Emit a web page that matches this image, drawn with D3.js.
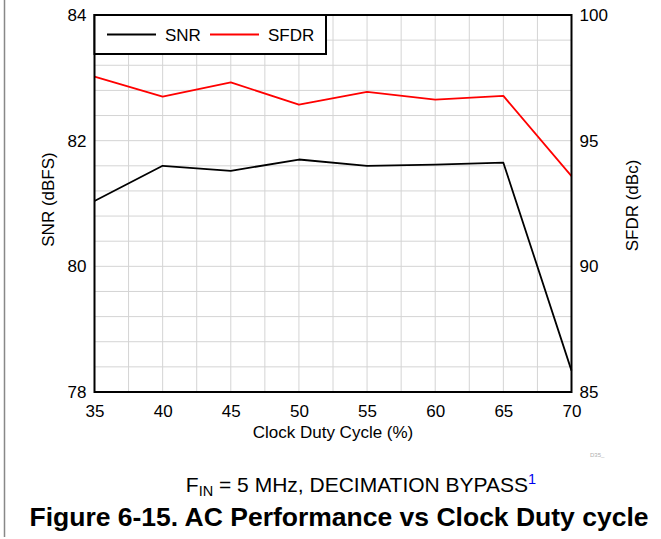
<!DOCTYPE html>
<head>
<meta charset="utf-8">
<style>
body { margin: 0; background: #fff; }
text { font-family: "Liberation Sans", Arial, sans-serif; fill: #000; }
.grid line { stroke: #d4d4d4; stroke-width: 1; }
.line { fill: none; stroke-width: 1.8px; stroke-linejoin: round; }
</style>
<script src="https://cdn.jsdelivr.net/npm/d3@7"></script>
</head>
<body>
<svg class="chart" width="661" height="539"></svg>
<script>
// Duty cycle values (%), and the two measured series.
var duty = [35, 40, 45, 50, 55, 60, 65, 70];
var snr = [81.04, 81.60, 81.52, 81.70, 81.60, 81.62, 81.65, 78.34];
var sfdr = [97.55, 96.75, 97.32, 96.43, 96.94, 96.63, 96.78, 93.59];
var snrTicks = [78, 80, 82, 84];
var sfdrTicks = [85, 90, 95, 100];
var dutyTicks = [35, 40, 45, 50, 55, 60, 65, 70];

var svg = d3.select(".chart"),
  margin = {top: 15, right: 89.5, bottom: 147, left: 94.5},
  width = 661 - margin.left - margin.right,
  height = 539 - margin.top - margin.bottom,
  fontSize = "17px";

// Scales for x and both y axes.
var x = d3.scaleLinear().domain([35, 70]).range([margin.left, margin.left + width]);
var ySnr = d3.scaleLinear().domain([78, 84]).range([margin.top + height, margin.top]);
var ySfdr = d3.scaleLinear().domain([85, 100]).range([margin.top + height, margin.top]);

// Page border on the left.
svg.append("line")
  .attr("x1", 4.5).attr("x2", 4.5).attr("y1", 0).attr("y2", 537)
  .attr("stroke", "#888").attr("stroke-width", 1.5);

// Grid lines: every 2.5 % and every 0.4 dB.
var grid = svg.append("g").attr("class", "grid");
grid.selectAll(".gx").data(d3.range(0, 15).map(function(i) { return 35 + i * 2.5; }))
  .enter().append("line")
  .attr("x1", function(d) { return x(d); }).attr("x2", function(d) { return x(d); })
  .attr("y1", margin.top).attr("y2", margin.top + height);
grid.selectAll(".gy").data(d3.range(0, 16).map(function(i) { return 78 + i * 0.4; }))
  .enter().append("line")
  .attr("x1", margin.left).attr("x2", margin.left + width)
  .attr("y1", function(d) { return ySnr(d); }).attr("y2", function(d) { return ySnr(d); });

// The two data lines.
var snrLine = d3.line()
  .x(function(d, i) { return x(duty[i]); })
  .y(function(d) { return ySnr(d); });
var sfdrLine = d3.line()
  .x(function(d, i) { return x(duty[i]); })
  .y(function(d) { return ySfdr(d); });

svg.append("path").datum(sfdr).attr("class", "line").attr("stroke", "#ff0000").attr("d", sfdrLine);
svg.append("path").datum(snr).attr("class", "line").attr("stroke", "#000").attr("d", snrLine);

// Plot frame.
svg.append("rect")
  .attr("x", margin.left).attr("y", margin.top)
  .attr("width", width).attr("height", height)
  .attr("fill", "none").attr("stroke", "#000").attr("stroke-width", 2);

// Axes: only labels, no tick marks.
var fmt = d3.format("d");
var xAxis = d3.axisBottom(x).tickValues(dutyTicks).tickFormat(fmt).tickSize(0).tickPadding(13);
svg.append("g").attr("transform", "translate(0," + (margin.top + height) + ")")
  .call(xAxis).call(function(g) { g.select(".domain").remove(); })
  .selectAll("text").attr("font-size", fontSize).attr("font-family", null);

var yLeft = d3.axisLeft(ySnr).tickValues(snrTicks).tickFormat(fmt).tickSize(0).tickPadding(8);
svg.append("g").attr("transform", "translate(" + margin.left + ",0)")
  .call(yLeft).call(function(g) { g.select(".domain").remove(); })
  .selectAll("text").attr("font-size", fontSize).attr("font-family", null);

var yRight = d3.axisRight(ySfdr).tickValues(sfdrTicks).tickFormat(fmt).tickSize(0).tickPadding(8);
svg.append("g").attr("transform", "translate(" + (margin.left + width) + ",0)")
  .call(yRight).call(function(g) { g.select(".domain").remove(); })
  .selectAll("text").attr("font-size", fontSize).attr("font-family", null);

// Axis titles.
svg.append("text")
  .attr("x", x(52.5)).attr("y", 438)
  .attr("text-anchor", "middle").attr("font-size", fontSize)
  .text("Clock Duty Cycle (%)");
svg.append("text")
  .attr("transform", "translate(54," + ((margin.top + margin.top + height) / 2 - 4) + ") rotate(-90)")
  .attr("text-anchor", "middle").attr("font-size", fontSize)
  .text("SNR (dBFS)");
svg.append("text")
  .attr("transform", "translate(638," + ((margin.top + margin.top + height) / 2 + 2) + ") rotate(-90)")
  .attr("text-anchor", "middle").attr("font-size", fontSize)
  .text("SFDR (dBc)");

// Legend box.
var legend = svg.append("g");
legend.append("rect")
  .attr("x", margin.left).attr("y", margin.top)
  .attr("width", 231.5).attr("height", 39)
  .attr("fill", "#fff").attr("stroke", "#000").attr("stroke-width", 2);
legend.append("line").attr("x1", 107).attr("x2", 156).attr("y1", 34.5).attr("y2", 34.5)
  .attr("stroke", "#000").attr("stroke-width", 1.8);
legend.append("text").attr("x", 165).attr("y", 41).attr("font-size", fontSize).text("SNR");
legend.append("line").attr("x1", 210).attr("x2", 259).attr("y1", 34.5).attr("y2", 34.5)
  .attr("stroke", "#ff0000").attr("stroke-width", 1.8);
legend.append("text").attr("x", 268).attr("y", 41).attr("font-size", fontSize).text("SFDR");

// Small figure id.
svg.append("text").attr("x", 590).attr("y", 457).attr("font-size", "6px")
  .style("fill", "#b0b0b0").text("D35_");

// Conditions line under the chart.
var cond = svg.append("text").attr("x", 361).attr("y", 492)
  .attr("text-anchor", "middle").attr("font-size", "21px");
cond.append("tspan").text("F");
cond.append("tspan").attr("font-size", "14.5px").attr("dy", 4).text("IN");
cond.append("tspan").attr("dy", -4).text(" = 5 MHz, DECIMATION BYPASS");
cond.append("tspan").attr("font-size", "14.5px").attr("dy", -8).style("fill", "#0000ee").text("1");

// Figure caption.
svg.append("text").attr("x", 339).attr("y", 526)
  .attr("text-anchor", "middle").attr("font-size", "26.5px").attr("font-weight", "bold")
  .text("Figure 6-15. AC Performance vs Clock Duty cycle");
</script>
</body>
